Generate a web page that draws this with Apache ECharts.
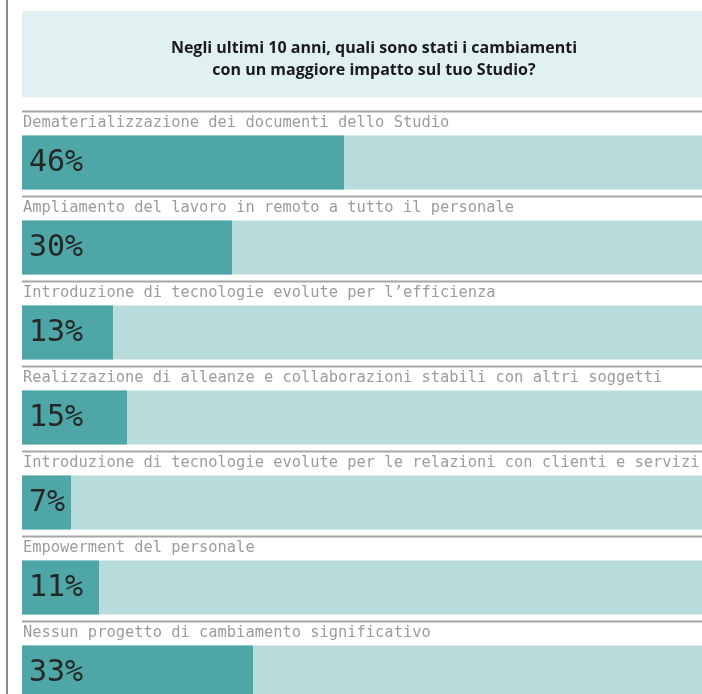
<!DOCTYPE html>
<html>
<head>
<meta charset="utf-8">
<script src="https://cdn.jsdelivr.net/npm/echarts@6/dist/echarts.min.js"></script>
<style>
html,body{margin:0;padding:0;background:#fff;overflow:hidden;width:702px;height:694px;}
#chart{width:724px;height:708px;}
</style>
</head>
<body>
<div id="chart"></div>
<script>
const titleText = 'Negli ultimi 10 anni, quali sono stati i cambiamenti\ncon un maggiore impatto sul tuo Studio?';
const categories = [
  'Dematerializzazione dei documenti dello Studio',
  'Ampliamento del lavoro in remoto a tutto il personale',
  'Introduzione di tecnologie evolute per l\u2019efficienza',
  'Realizzazione di alleanze e collaborazioni stabili con altri soggetti',
  'Introduzione di tecnologie evolute per le relazioni con clienti e servizi',
  'Empowerment del personale',
  'Nessun progetto di cambiamento significativo'
];
const values = [46, 30, 13, 15, 7, 11, 33];
const axisMax = 100;

const chart = echarts.init(document.getElementById('chart'), null, {renderer: 'canvas'});

function renderItem(params, api) {
  const i = api.value(0);
  const v = api.value(1);
  const p0 = api.coord([0, i]);
  const pv = api.coord([v, i]);
  const pm = api.coord([axisMax, i]);
  const band = api.size([0, 1])[1];
  const top = p0[1] - band / 2;
  const barTop = top + 24.5;
  const barH = 54;
  return {
    type: 'group',
    children: [
      {type: 'line', shape: {x1: p0[0], y1: top + 0.5, x2: pm[0], y2: top + 0.5},
        style: {stroke: '#a6a6a6', lineWidth: 2}},
      {type: 'text', x: p0[0] + 1, y: top + 11.5,
        style: {text: categories[i], fill: '#9c9c9c', font: '15.4px "DejaVu Sans Mono"', verticalAlign: 'middle', align: 'left'}},
      {type: 'rect', shape: {x: p0[0], y: barTop, width: pm[0] - p0[0], height: barH},
        style: {fill: '#b8dcdc'}},
      {type: 'rect', shape: {x: p0[0], y: barTop, width: pv[0] - p0[0], height: barH},
        style: {fill: '#4fa6a7'}},
      {type: 'text', x: p0[0] + 7, y: barTop + barH / 2 + 1,
        style: {text: v + '%', fill: '#262626', font: '30px "DejaVu Sans Mono"', verticalAlign: 'middle', align: 'left'}}
    ]
  };
}

const option = {
  animation: false,
  backgroundColor: '#ffffff',
  title: {
    text: titleText,
    left: 369,
    top: 32,
    textAlign: 'center',
    textStyle: {fontFamily: 'Open Sans', fontWeight: 'bold', fontSize: 16, lineHeight: 22, color: '#1a1a1a'}
  },
  graphic: [
    {type: 'rect', z: -10, shape: {x: 22, y: 11, width: 680, height: 86}, style: {fill: '#e1f0f0'}},
    {type: 'line', z: -10, shape: {x1: 7, y1: 0, x2: 7, y2: 708}, style: {stroke: '#8a8a8a', lineWidth: 2}}
  ],
  grid: {left: 22, top: 111, width: 700, height: 595},
  xAxis: {type: 'value', min: 0, max: axisMax, show: false},
  yAxis: {type: 'category', data: categories, inverse: true, show: false},
  series: [{
    type: 'custom',
    clip: false,
    renderItem: renderItem,
    encode: {x: 1, y: 0},
    data: values.map((v, i) => [i, v])
  }]
};
chart.setOption(option);
</script>
</body>
</html>
